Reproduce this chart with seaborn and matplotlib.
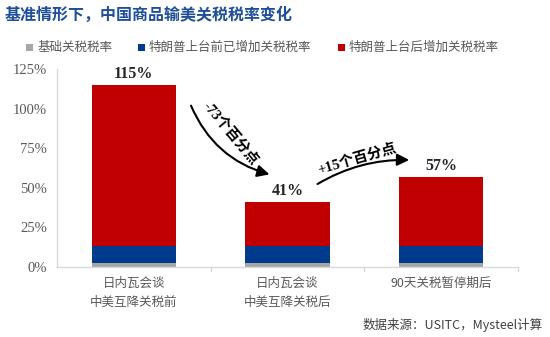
import matplotlib
matplotlib.use("Agg")
import matplotlib.pyplot as plt
import seaborn as sns
import pandas as pd
from matplotlib.patches import Rectangle

categories = ["日内瓦会谈\n中美互降关税前", "日内瓦会谈\n中美互降关税后", "90天关税暂停期后"]
base_rate = [2.5, 2.5, 2.5]
pre_trump_added = [10.5, 10.5, 10.5]
post_trump_added = [102.0, 28.0, 44.0]
totals = [115, 41, 57]
series_names = ["基础关税税率", "特朗普上台前已增加关税税率", "特朗普上台后增加关税税率"]
yticks = [0, 25, 50, 75, 100, 125]

sns.set_theme(style="white")
CJK = ["Noto Sans CJK SC", "DejaVu Sans"]
SERIF = ["Liberation Serif", "Noto Sans CJK SC"]
plt.rcParams["font.family"] = CJK

GRAY = "#A6A6A6"
BLUE = "#003A8C"
RED = "#C00000"
TXT = "#595959"

fig = plt.figure(figsize=(5.5, 3.37), dpi=100)
ax = fig.add_axes([57/550, 1-267/337, (518-57)/550, (267-69)/337])

df = pd.DataFrame({
    "cat": categories,
    "gray": base_rate,
    "blue": [a + b for a, b in zip(base_rate, pre_trump_added)],
    "red": [a + b + c for a, b, c in zip(base_rate, pre_trump_added, post_trump_added)],
})
for col, color in [("red", RED), ("blue", BLUE), ("gray", GRAY)]:
    sns.barplot(data=df, x="cat", y=col, color=color, width=0.55, ax=ax,
                saturation=1, edgecolor="none", order=categories)

ax.set_xlim(-0.5, 2.5)
ax.set_ylim(0, 125)
ax.set_yticks(yticks)
ax.set_yticklabels([f"{v}%" for v in yticks], family=SERIF, fontsize=10.5, color=TXT)
ax.set_xticks([0, 1, 2])
ax.set_xticklabels(categories, fontsize=9, color=TXT, linespacing=1.6)
ax.tick_params(axis="x", length=0, pad=7)
ax.tick_params(axis="y", length=0, pad=7)
ax.set_xlabel("")
ax.set_ylabel("")
for s in ["top", "right"]:
    ax.spines[s].set_visible(False)
for s in ["left", "bottom"]:
    ax.spines[s].set_color("#D9D9D9")
    ax.spines[s].set_linewidth(1)
# category separator ticks
for xb in [0.5, 1.5, 2.5]:
    ax.plot([xb, xb], [0, -2.5], color="#D9D9D9", lw=1, clip_on=False)

for i, t in enumerate(totals):
    ax.text(i, t + 2.0, f"{t}%", ha="center", va="bottom", family=SERIF,
            fontsize=11.5, fontweight="bold", color="#262626")

# arrows
ax.annotate("", xy=(0.9, 58), xytext=(0.365, 103.5),
            arrowprops=dict(arrowstyle="-|>,head_length=0.6,head_width=0.3",
                            connectionstyle="arc3,rad=0.25", color="black", lw=1.5))
ax.text(0.63, 84, "-73个百分点", rotation=-50, ha="center", va="center",
        family=SERIF, fontsize=10.5, fontweight="bold", color="black",
        rotation_mode="anchor")
ax.annotate("", xy=(1.81, 67.5), xytext=(1.18, 51.5),
            arrowprops=dict(arrowstyle="-|>,head_length=0.6,head_width=0.3",
                            connectionstyle="arc3,rad=-0.15", color="black", lw=1.5))
ax.text(1.45, 68, "+15个百分点", rotation=16, ha="center", va="center",
        family=SERIF, fontsize=10.5, fontweight="bold", color="black",
        rotation_mode="anchor")

# title
fig.text(5/550, 1-15/337, "基准情形下，中国商品输美关税税率变化", ha="left", va="center",
         fontsize=11.5, fontweight="bold", color="#1F4E9A")

# legend
leg_x = [26, 138, 338]
for x0, name, c in zip(leg_x, series_names, [GRAY, BLUE, RED]):
    fig.patches.append(Rectangle((x0/550, 1-51/337), 7/550, 7/337, transform=fig.transFigure,
                                 facecolor=c, edgecolor="none"))
    fig.text((x0+11)/550, 1-47.5/337, name, ha="left", va="center", fontsize=9, color=TXT)

fig.text(543/550, 1-325/337, "数据来源：USITC，Mysteel计算", ha="right", va="center",
         fontsize=9, color="#404040")

fig.savefig("out.png", dpi=100)
